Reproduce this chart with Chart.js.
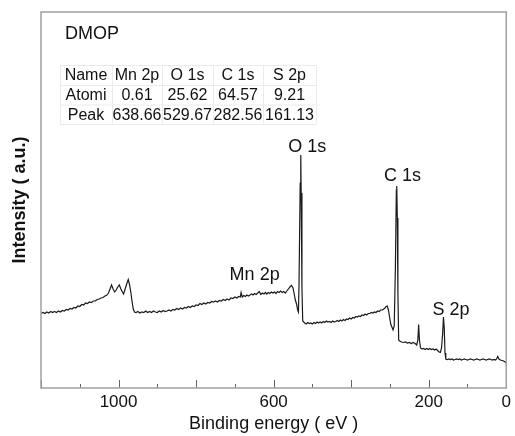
<!DOCTYPE html>
<html>
<head>
<meta charset="utf-8">
<script src="https://cdn.jsdelivr.net/npm/chart.js@4.4.1/dist/chart.umd.min.js"></script>
<style>
  html, body { margin: 0; padding: 0; background: #fff; }
  canvas { display: block; }
</style>
</head>
<body>
<canvas id="xpsChart" width="515" height="436"></canvas>
<script>
// XPS survey spectrum (intensity in arbitrary units)
const bindingEnergy = [
  1200, 1195, 1190, 1185, 1180, 1175, 1170, 1165, 1160, 1155,
  1150, 1145, 1140, 1135, 1130, 1125, 1120, 1115, 1110, 1105,
  1100, 1095, 1090, 1085, 1080, 1075, 1070, 1065, 1060, 1055,
  1050, 1045, 1040, 1035, 1030, 1026, 1022, 1018, 1014, 1010,
  1006, 1002, 998, 994, 990, 987, 983, 979, 975, 972,
  968, 965, 962, 959,
  955, 950, 945, 940, 935, 930, 925, 920, 915, 910,
  905, 900, 895, 890, 885, 880, 875, 870, 865, 860,
  855, 850, 845, 840, 835, 830, 825, 820, 815, 810,
  805, 800, 795, 790, 785, 780, 775, 770, 765, 760,
  755, 750, 745, 740, 735, 730, 725, 720, 715, 710,
  705, 700, 695, 690, 686, 684, 681, 677, 673, 669,
  665, 661, 657, 653, 649, 645, 641, 637, 633, 629,
  625, 621, 618, 614, 610, 606, 602, 598, 594, 590,
  586, 582, 578, 574, 570, 566, 562, 558, 554, 550,
  547, 544, 541, 538, 536,
  534.5, 531.5, 530, 529, 527, 525,
  520, 516, 512, 508, 504, 500, 496, 492, 488, 484,
  480, 476, 472, 468, 464, 460, 456, 452, 448, 444,
  440, 436, 432, 428, 424, 420, 416, 412, 408, 404,
  400, 396, 392, 388, 384, 380, 376, 372, 368, 364,
  360, 356, 352, 348, 344, 340, 336, 332, 328, 324,
  320, 316, 313, 310, 307, 304, 301, 298, 295, 292,
  289, 286, 283.5, 282.5, 281, 279.5, 277.5,
  275, 270, 265, 260, 255, 250, 245, 240, 235, 231,
  228, 226, 224, 221, 217, 213, 209, 205, 201, 197,
  193, 189, 185, 181, 177, 173, 170, 167, 164, 162,
  160, 158, 156, 152, 148, 144, 140, 136, 132, 128,
  124, 120, 116, 112, 108, 104, 100, 96, 92, 88,
  84, 80, 76, 72, 68, 64, 60, 56, 52, 48,
  44, 40, 36, 32, 28, 25, 22, 19, 15, 11,
  7, 3, 0
];
const intensity = [
  74.5, 75.5, 74.5, 76, 75, 76.5, 75.5, 76.5, 75.5, 77,
  76, 77.5, 77, 78.5, 78, 79.5, 79, 80.5, 80, 82,
  81.5, 83.5, 83, 85, 84.5, 86, 85.5, 87, 87, 88.5,
  89, 90, 90.5, 92, 93, 95, 99, 103, 99, 96,
  98, 101, 103, 99, 96, 94, 99, 104, 108.5, 104,
  95, 86, 79, 76,
  75.5, 76.5, 75, 76, 75.5, 77, 75.5, 76.5, 75.5, 77,
  76, 75.5, 77, 76, 77.5, 76.5, 77, 78, 77, 78.5,
  78, 79.5, 78.5, 80, 79, 80.5, 80, 81.5, 80.5, 82,
  81.5, 83, 82.5, 84.5, 83.5, 85, 84, 85.5, 85, 86.5,
  86, 87, 86, 87.5, 87, 88.5, 87.5, 89, 88, 90,
  89.5, 91, 90, 91.5, 91, 95.5, 91, 92.5, 91.5, 93,
  92, 93, 94, 93, 94.5, 93.5, 95, 96.5, 93.5, 95,
  94, 95.5, 94, 95.5, 94.5, 96, 95, 96, 94.5, 96.5,
  95.5, 97, 95.5, 96.5, 95, 97, 99, 101, 102.5, 100,
  94, 88, 84, 78, 76,
  105, 205, 233, 195, 100, 67,
  65, 64, 65.5, 64.5, 65, 64, 65.5, 64.5, 66, 65,
  66, 65, 66.5, 65.5, 67, 66, 66.5, 65.5, 67, 66,
  66.5, 67.5, 66.5, 68, 67, 68.5, 67.5, 69, 68.5, 70,
  69, 70.5, 70, 71.5, 71, 72, 71.5, 73, 72.5, 74,
  73, 74.5, 74.5, 75.5, 75, 76, 75.5, 77, 76.5, 78,
  78, 79, 80, 81.5, 82, 78, 71, 64, 61, 58,
  62, 120, 198, 202, 170, 95, 48,
  47, 46, 45.5, 46, 45, 45.5, 44.5, 45.5, 44.5, 43,
  48, 63.5, 48, 40, 39, 39.5, 38.5, 39.5, 38.5, 39.5,
  38.5, 39, 38, 39, 37.5, 36, 35.5, 40, 55, 71,
  60, 35, 29, 28.5, 29, 28.5, 29, 28, 28.5, 29,
  28.5, 29, 28, 28.5, 29, 28.5, 28, 28.5, 29, 28.5,
  28, 28.5, 29, 28.5, 28, 28.5, 29, 28.5, 28, 28.5,
  29, 28.5, 28, 28.5, 28, 29, 31.5, 29, 28, 27.5,
  27, 26, 25
];

const labelledTicks = [1000, 600, 200, 0];

// composition table from the inset
const tableHeader = ['Name', 'Mn 2p', 'O 1s', 'C 1s', 'S 2p'];
const tableAtomic = ['Atomi', '0.61', '25.62', '64.57', '9.21'];
const tablePeak = ['Peak', '638.66', '529.67', '282.56', '161.13'];

const peakNames = ['Mn 2p', 'O 1s', 'C 1s', 'S 2p'];
const peakLabelAt = [[649, 113], [513, 240.5], [267.5, 212], [142.7, 77.5]];

const FONT = '"Liberation Sans", Arial, Helvetica, sans-serif';

const points = bindingEnergy.map((e, i) => ({x: e, y: intensity[i]}));

const framePlugin = {
  id: 'frame',
  beforeDraw(chart) {
    const ctx = chart.ctx;
    ctx.save();
    ctx.fillStyle = '#fff';
    ctx.fillRect(0, 0, chart.width, chart.height);
    ctx.restore();
  },
  afterDraw(chart) {
    const ctx = chart.ctx;
    const a = chart.chartArea;
    const xs = chart.scales.x;
    const ys = chart.scales.y;
    ctx.save();

    // inward ticks on the bottom axis
    ctx.strokeStyle = '#666';
    ctx.lineWidth = 1;
    xs.ticks.forEach(t => {
      const px = Math.round(xs.getPixelForValue(t.value)) + 0.5;
      const len = (t.value % 200 === 0) ? 8 : 4;
      ctx.beginPath();
      ctx.moveTo(px, a.bottom);
      ctx.lineTo(px, a.bottom - len);
      ctx.stroke();
    });

    // box around the plot
    ctx.strokeStyle = '#a0a0a0';
    ctx.lineWidth = 1.5;
    ctx.strokeRect(a.left, a.top, a.right - a.left, a.bottom - a.top);

    // sample name
    ctx.fillStyle = '#111';
    ctx.font = '18px ' + FONT;
    ctx.textAlign = 'left';
    ctx.textBaseline = 'middle';
    ctx.fillText('DMOP', 65, 34);

    // inset table
    const colEdges = [60, 112, 162, 213, 263, 316];
    const rowEdges = [65, 85, 104.5, 124];
    ctx.strokeStyle = '#ebebeb';
    ctx.lineWidth = 1;
    rowEdges.forEach(y => {
      ctx.beginPath();
      ctx.moveTo(colEdges[0], y + 0.5);
      ctx.lineTo(colEdges[colEdges.length - 1], y + 0.5);
      ctx.stroke();
    });
    colEdges.forEach(x => {
      ctx.beginPath();
      ctx.moveTo(x + 0.5, rowEdges[0]);
      ctx.lineTo(x + 0.5, rowEdges[rowEdges.length - 1]);
      ctx.stroke();
    });
    ctx.font = '16px ' + FONT;
    ctx.textAlign = 'center';
    [tableHeader, tableAtomic, tablePeak].forEach((row, r) => {
      const cy = (rowEdges[r] + rowEdges[r + 1]) / 2 + 1;
      row.forEach((txt, c) => {
        const cx = (colEdges[c] + colEdges[c + 1]) / 2;
        ctx.fillText(txt, cx, cy);
      });
    });

    // peak labels
    ctx.font = '18px ' + FONT;
    peakNames.forEach((name, i) => {
      const [e, v] = peakLabelAt[i];
      ctx.fillText(name, xs.getPixelForValue(e), ys.getPixelForValue(v));
    });
    ctx.restore();
  }
};

new Chart(document.getElementById('xpsChart'), {
  type: 'line',
  data: {
    datasets: [{
      data: points,
      borderColor: '#1a1a1a',
      borderWidth: 1.2,
      pointRadius: 0,
      tension: 0,
      fill: false
    }]
  },
  options: {
    responsive: false,
    animation: false,
    parsing: false,
    layout: { padding: { top: 12, right: 8, left: 0, bottom: 0 } },
    plugins: {
      legend: { display: false },
      tooltip: { enabled: false }
    },
    scales: {
      x: {
        type: 'linear',
        reverse: true,
        min: 0,
        max: 1200,
        border: { display: false },
        grid: { display: false, drawTicks: false },
        ticks: {
          stepSize: 100,
          autoSkip: false,
          maxRotation: 0,
          padding: 4,
          color: '#111',
          font: { family: FONT, size: 17 },
          callback: v => labelledTicks.includes(v) ? String(v) : ''
        },
        title: {
          display: true,
          text: 'Binding energy ( eV )',
          color: '#111',
          font: { family: FONT, size: 18 },
          padding: { top: 0, bottom: 1 }
        },
        afterFit(scale) { scale.height = 48; }
      },
      y: {
        min: 0,
        max: 376,
        border: { display: false },
        grid: { display: false, drawTicks: false },
        ticks: { display: false },
        title: {
          display: true,
          text: 'Intensity ( a.u.)',
          color: '#111',
          font: { family: FONT, size: 18, weight: 'bold' },
          padding: { top: 9, bottom: 0 }
        },
        afterFit(scale) { scale.width = 41; }
      }
    }
  },
  plugins: [framePlugin]
});
</script>
</body>
</html>
